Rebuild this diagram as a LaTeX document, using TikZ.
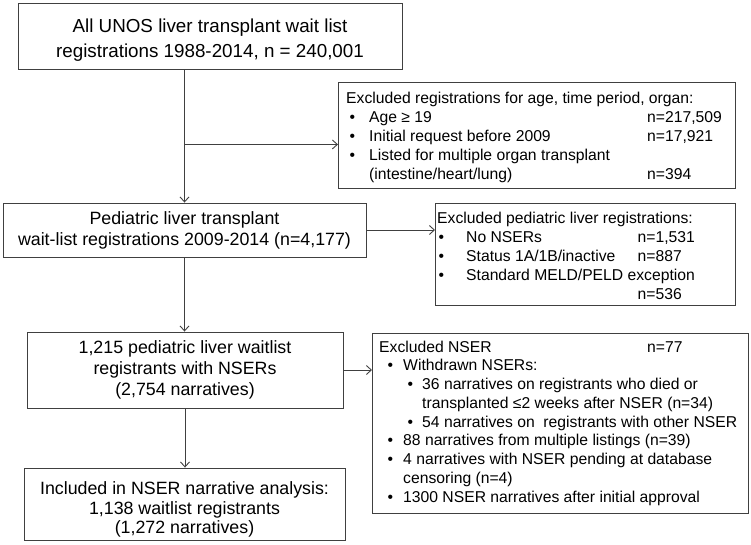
\documentclass[tikz,border=0pt]{standalone}
\usepackage{fontspec}
\setmainfont{Liberation Sans}
\usetikzlibrary{arrows.meta}

\begin{document}
\begin{tikzpicture}[x=1pt,y=-1pt,
  mainbox/.style={draw=black!75,line width=0.9pt,align=center,inner sep=0pt,font=\fontsize{17.8}{21}\selectfont},
  sidebox/.style={draw=black!75,line width=0.9pt,inner sep=0pt,anchor=north west},
  sidetext/.style={inner sep=0pt,anchor=north west,font=\fontsize{15.7}{19}\selectfont},
  flow/.style={draw=black!75,line width=0.9pt,-{Straight Barb[length=5pt,width=9pt]}}]
\useasboundingbox (0,0) rectangle (751,544);
% main column
\node[mainbox,minimum width=384,minimum height=66,font=\fontsize{18.8}{25}\selectfont] (unos) at (210,36) {\rule{0pt}{21.5pt}All UNOS liver transplant wait list\\registrations 1988-2014, n = 240,001};
\node[mainbox,minimum width=363,minimum height=54] (pedi) at (184.5,230) {Pediatric liver transplant\\wait-list registrations 2009-2014 (n=4,177)};
\node[mainbox,minimum width=316,minimum height=76] (nser) at (185,370) {1,215 pediatric liver waitlist\\registrants with NSERs\\(2,754 narratives)};
\node[mainbox,minimum width=321,minimum height=72,font=\fontsize{17.8}{19.5}\selectfont] (incl) at (184.5,504) {\rule{0pt}{24.5pt}Included in NSER narrative analysis:\\1,138 waitlist registrants\\(1,272 narratives)};
% exclusion boxes
\node[sidebox,minimum width=397,minimum height=106] (exage) at (338,82) {};
\node[sidetext] (exagetxt) at ([shift={(8,7.7)}]exage.north west) {%
\begin{tabular}{@{}p{23pt}@{}p{278pt}@{}l@{}}
\multicolumn{3}{@{}l@{}}{Excluded registrations for age, time period, organ:}\\
\hspace*{3.5pt}\textbullet & Age ≥ 19 & n=217,509\\
\hspace*{3.5pt}\textbullet & Initial request before 2009 & n=17,921\\
\hspace*{3.5pt}\textbullet & Listed for multiple organ transplant & \\
 & (intestine/heart/lung) & n=394
\end{tabular}};
\node[sidebox,minimum width=300,minimum height=102] (expedi) at (435,203) {};
\node[sidetext] (expeditxt) at ([shift={(2,6.7)}]expedi.north west) {%
\begin{tabular}{@{}p{29pt}@{}p{171.5pt}@{}l@{}}
\multicolumn{3}{@{}l@{}}{Excluded pediatric liver registrations:}\\
\hspace*{1.5pt}\textbullet & No NSERs & n=1,531\\
\hspace*{1.5pt}\textbullet & Status 1A/1B/inactive & n=887\\
\hspace*{1.5pt}\textbullet & \multicolumn{2}{@{}l@{}}{Standard MELD/PELD exception}\\
 & & n=536
\end{tabular}};
\node[sidebox,minimum width=376,minimum height=180] (exnser) at (372,333) {};
\node[sidetext,font=\fontsize{15.7}{18.75}\selectfont] (exnsertxt) at ([shift={(7,5.9)}]exnser.north west) {%
\begin{tabular}{@{}l@{}}
\makebox[268pt][l]{Excluded NSER}n=77\\
\hspace*{8.5pt}\makebox[15.5pt][l]{\textbullet}Withdrawn NSERs:\\
\hspace*{28.5pt}\makebox[14.5pt][l]{\textbullet}36 narratives on registrants who died or\\
\hspace*{43pt}transplanted ≤2 weeks after NSER (n=34)\\
\hspace*{28.5pt}\makebox[14.5pt][l]{\textbullet}54 narratives on\ \ registrants with other NSER\\
\hspace*{8.5pt}\makebox[15.5pt][l]{\textbullet}88 narratives from multiple listings (n=39)\\
\hspace*{8.5pt}\makebox[15.5pt][l]{\textbullet}4 narratives with NSER pending at database\\
\hspace*{24pt}censoring (n=4)\\
\hspace*{8.5pt}\makebox[15.5pt][l]{\textbullet}1300 NSER narratives after initial approval
\end{tabular}};
% connectors
\draw[flow] (unos.south -| pedi.north) -- (pedi.north);
\draw[flow] ([yshift=-9pt]exage.west -| pedi.north) -- ([yshift=-9pt]exage.west);
\draw[flow] (pedi.east) -- (pedi.east -| expedi.west);
\draw[flow] (pedi.south) -- (pedi.south |- nser.north);
\draw[flow] (nser.east) -- (nser.east -| exnser.west);
\draw[flow] (nser.south) -- (nser.south |- incl.north);
\end{tikzpicture}
\end{document}
